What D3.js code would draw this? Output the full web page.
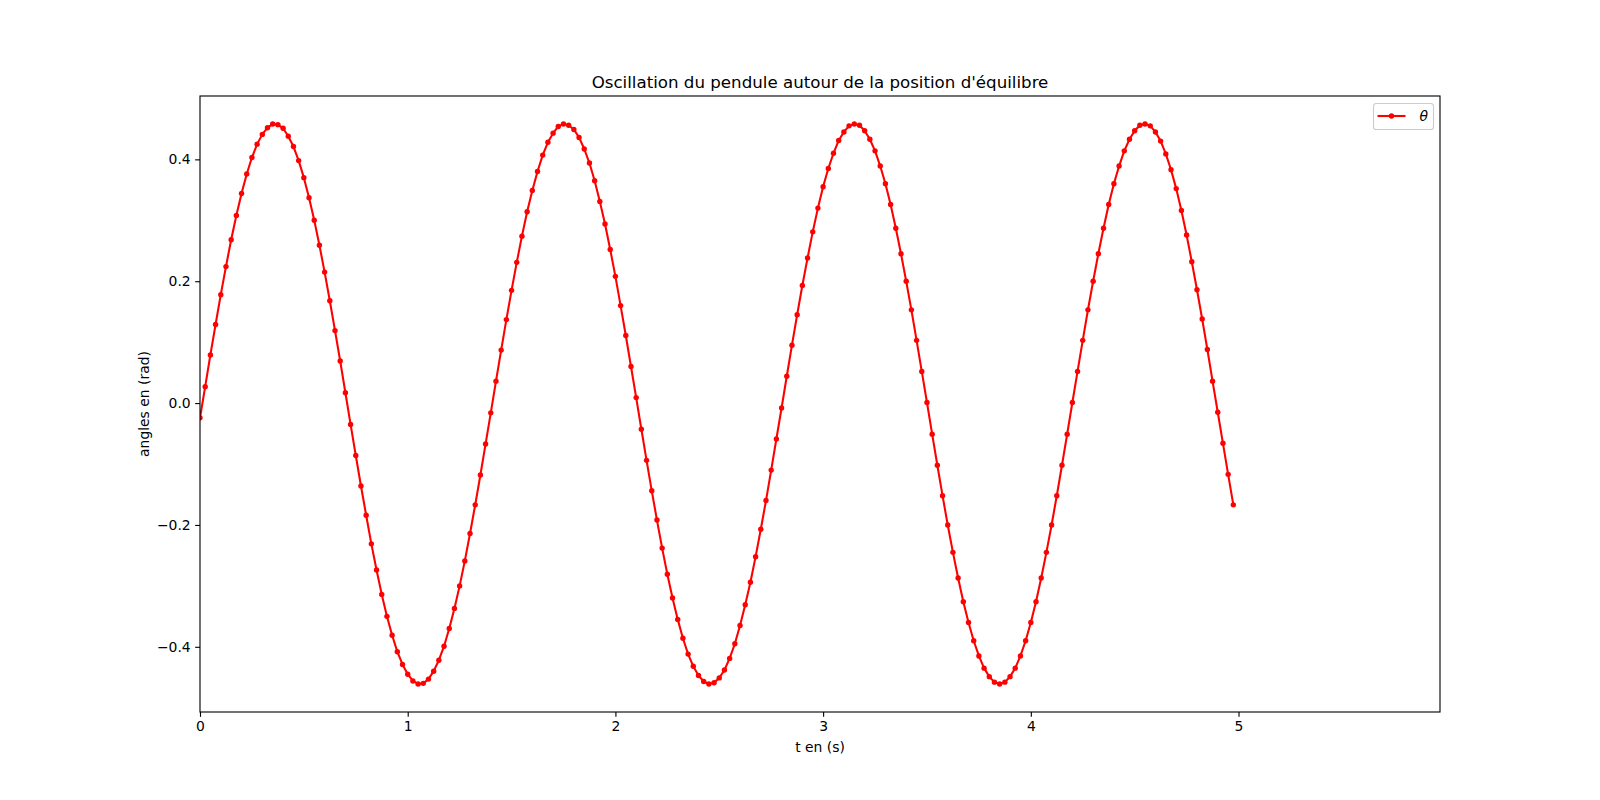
<!DOCTYPE html>
<html><head><meta charset="utf-8">
<script src="https://cdn.jsdelivr.net/npm/d3@7"></script>
<style>
body{margin:0;background:#fff;}
svg{display:block;font-family:'DejaVu Sans',sans-serif;}
</style>
</head><body>
<svg id="chart" width="1600" height="800"></svg>
<script>
// ---- data ----
const times = [
0.000,0.025,0.050,0.075,0.100,0.125,0.150,0.175,0.200,0.225,
0.250,0.275,0.300,0.325,0.350,0.375,0.400,0.425,0.450,0.475,
0.500,0.525,0.550,0.575,0.600,0.625,0.650,0.675,0.700,0.725,
0.750,0.775,0.800,0.825,0.850,0.875,0.900,0.925,0.950,0.975,
1.000,1.025,1.050,1.075,1.100,1.125,1.150,1.175,1.200,1.225,
1.250,1.275,1.300,1.325,1.350,1.375,1.400,1.425,1.450,1.475,
1.500,1.525,1.550,1.575,1.600,1.625,1.650,1.675,1.700,1.725,
1.750,1.775,1.800,1.825,1.850,1.875,1.900,1.925,1.950,1.975,
2.000,2.025,2.050,2.075,2.100,2.125,2.150,2.175,2.200,2.225,
2.250,2.275,2.300,2.325,2.350,2.375,2.400,2.425,2.450,2.475,
2.500,2.525,2.550,2.575,2.600,2.625,2.650,2.675,2.700,2.725,
2.750,2.775,2.800,2.825,2.850,2.875,2.900,2.925,2.950,2.975,
3.000,3.025,3.050,3.075,3.100,3.125,3.150,3.175,3.200,3.225,
3.250,3.275,3.300,3.325,3.350,3.375,3.400,3.425,3.450,3.475,
3.500,3.525,3.550,3.575,3.600,3.625,3.650,3.675,3.700,3.725,
3.750,3.775,3.800,3.825,3.850,3.875,3.900,3.925,3.950,3.975,
4.000,4.025,4.050,4.075,4.100,4.125,4.150,4.175,4.200,4.225,
4.250,4.275,4.300,4.325,4.350,4.375,4.400,4.425,4.450,4.475,
4.500,4.525,4.550,4.575,4.600,4.625,4.650,4.675,4.700,4.725,
4.750,4.775,4.800,4.825,4.850,4.875,4.900,4.925,4.950,4.975];

const theta = [
-0.024, 0.027, 0.079, 0.129, 0.178, 0.224, 0.268, 0.308, 0.344, 0.376,
 0.403, 0.425, 0.441, 0.452, 0.458, 0.457, 0.451, 0.438, 0.421, 0.398,
 0.370, 0.337, 0.300, 0.259, 0.215, 0.168, 0.119, 0.069, 0.017,-0.035,
-0.086,-0.136,-0.184,-0.231,-0.274,-0.314,-0.350,-0.381,-0.408,-0.429,
-0.445,-0.456,-0.461,-0.460,-0.453,-0.440,-0.422,-0.399,-0.370,-0.337,
-0.300,-0.259,-0.214,-0.167,-0.118,-0.067,-0.016, 0.036, 0.087, 0.137,
 0.185, 0.231, 0.274, 0.314, 0.349, 0.380, 0.407, 0.428, 0.443, 0.454,
 0.458, 0.456, 0.449, 0.436, 0.417, 0.394, 0.365, 0.331, 0.294, 0.252,
 0.208, 0.160, 0.111, 0.060, 0.009,-0.043,-0.094,-0.144,-0.192,-0.238,
-0.281,-0.320,-0.355,-0.386,-0.412,-0.432,-0.447,-0.457,-0.461,-0.459,
-0.451,-0.438,-0.419,-0.395,-0.365,-0.331,-0.294,-0.252,-0.207,-0.160,
-0.110,-0.059,-0.008, 0.044, 0.095, 0.145, 0.193, 0.238, 0.281, 0.320,
 0.355, 0.385, 0.410, 0.431, 0.445, 0.455, 0.458, 0.456, 0.447, 0.433,
 0.414, 0.389, 0.360, 0.326, 0.287, 0.245, 0.200, 0.153, 0.103, 0.052,
 0.001,-0.051,-0.102,-0.152,-0.200,-0.245,-0.287,-0.326,-0.360,-0.390,
-0.415,-0.435,-0.449,-0.458,-0.461,-0.458,-0.449,-0.435,-0.415,-0.390,
-0.360,-0.326,-0.287,-0.245,-0.200,-0.152,-0.102,-0.051, 0.001, 0.052,
 0.103, 0.153, 0.200, 0.245, 0.287, 0.326, 0.360, 0.389, 0.414, 0.433,
 0.447, 0.456, 0.458, 0.455, 0.445, 0.430, 0.409, 0.383, 0.352, 0.316,
 0.276, 0.232, 0.186, 0.138, 0.088, 0.036,-0.015,-0.066,-0.117,-0.167];

const xTicks = [0, 1, 2, 3, 4, 5];
const yTicks = [-0.4, -0.2, 0.0, 0.2, 0.4];
const yTickLabels = ["\u22120.4", "\u22120.2", "0.0", "0.2", "0.4"];
const titleText = "Oscillation du pendule autour de la position d'\u00e9quilibre";
const xLabelText = "t en (s)";
const yLabelText = "angles en (rad)";
const legendLabel = "\u03b8";

// ---- layout ----
const W = 1600, H = 800;
const L = 200, R = 1440, T = 96, B = 712;
const svg = d3.select("#chart");

const x = d3.scaleLinear().domain([0, 5.97]).range([L, R]);
const y = d3.scaleLinear().domain([-0.507, 0.504]).range([B, T]);

const data = times.map((t, i) => ({t, v: theta[i]}));

svg.append("defs").append("clipPath").attr("id", "clip")
  .append("rect").attr("x", L).attr("y", T).attr("width", R - L).attr("height", B - T);

const plot = svg.append("g").attr("clip-path", "url(#clip)");
const line = d3.line().x(d => x(d.t)).y(d => y(d.v));
plot.append("path").datum(data)
  .attr("d", line).attr("fill", "none").attr("stroke", "#ff0000")
  .attr("stroke-width", 2.08).attr("stroke-linejoin", "round").attr("stroke-linecap", "square");
plot.selectAll("circle.pt").data(data).enter().append("circle")
  .attr("class", "pt").attr("cx", d => x(d.t)).attr("cy", d => y(d.v))
  .attr("r", 2.7).attr("fill", "#ff0000");

// axes
const xAxis = d3.axisBottom(x).tickValues(xTicks).tickFormat(d3.format("d"))
  .tickSizeInner(4.86).tickSizeOuter(0).tickPadding(4.5);
const yAxis = d3.axisLeft(y).tickValues(yTicks).tickFormat((d, i) => yTickLabels[i])
  .tickSizeInner(4.86).tickSizeOuter(0).tickPadding(4.5);

const gx = svg.append("g").attr("transform", `translate(0,${B})`).call(xAxis);
const gy = svg.append("g").attr("transform", `translate(${L},0)`).call(yAxis);
[gx, gy].forEach(g => {
  g.select(".domain").remove();
  g.selectAll(".tick line").attr("stroke", "#000").attr("stroke-width", 1.11);
  g.selectAll(".tick text").attr("fill", "#000").style("font-size", "13.9px")
    .style("font-family", "'DejaVu Sans',sans-serif");
});

// frame
svg.append("rect").attr("x", L).attr("y", T).attr("width", R - L).attr("height", B - T)
  .attr("fill", "none").attr("stroke", "#000").attr("stroke-width", 1.11);

// title & labels
svg.append("text").attr("x", (L + R) / 2).attr("y", 87.5).attr("text-anchor", "middle")
  .style("font-size", "16.67px").attr("fill", "#000").text(titleText);
svg.append("text").attr("x", (L + R) / 2).attr("y", 752).attr("text-anchor", "middle")
  .style("font-size", "13.9px").attr("fill", "#000").text(xLabelText);
svg.append("text").attr("transform", `translate(148.5,${(T + B) / 2}) rotate(-90)`)
  .attr("text-anchor", "middle").style("font-size", "13.9px").attr("fill", "#000").text(yLabelText);

// legend
const lg = svg.append("g");
lg.append("rect").attr("x", 1373.5).attr("y", 103.5).attr("width", 60).attr("height", 26)
  .attr("rx", 2.8).attr("fill", "#fff").attr("fill-opacity", 0.8)
  .attr("stroke", "#cccccc").attr("stroke-width", 1.11);
lg.append("line").attr("x1", 1377.5).attr("x2", 1405.5).attr("y1", 116).attr("y2", 116)
  .attr("stroke", "#ff0000").attr("stroke-width", 2.08);
lg.append("circle").attr("cx", 1391.5).attr("cy", 116).attr("r", 2.7).attr("fill", "#ff0000");
lg.append("text").attr("x", 1419.5).attr("y", 121).style("font-size", "13.9px")
  .style("font-style", "italic").attr("fill", "#000").text(legendLabel);
</script></body></html>
